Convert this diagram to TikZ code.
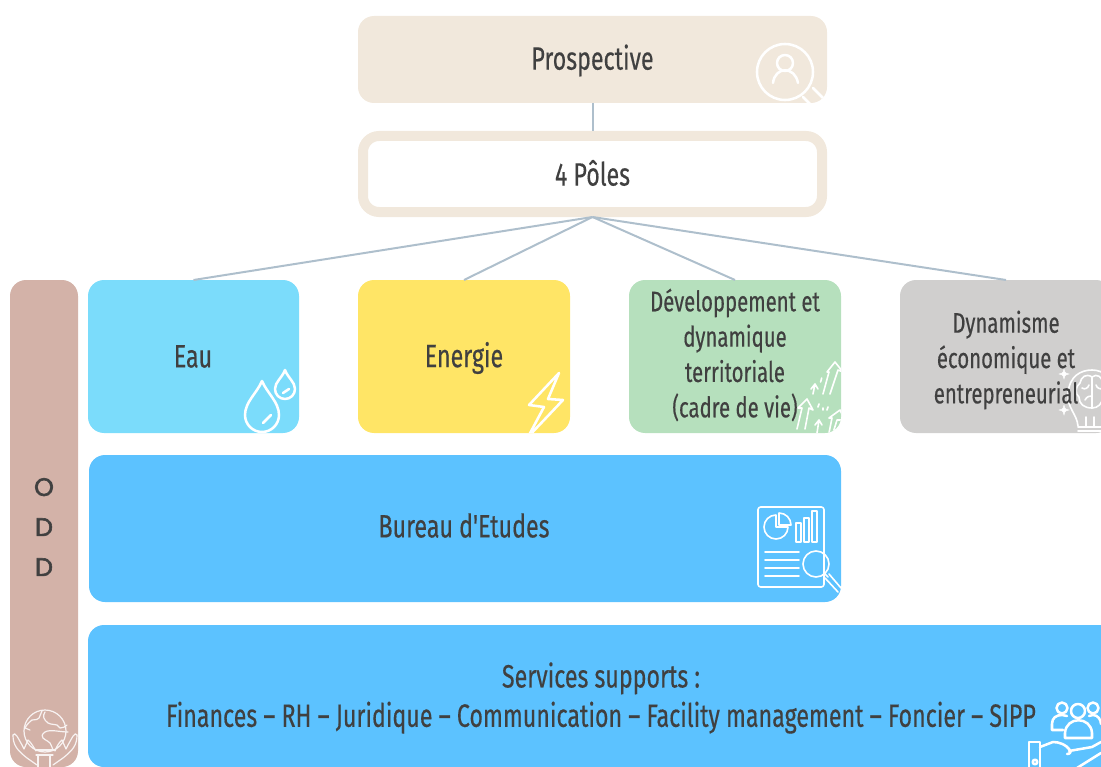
\documentclass[tikz,border=0pt]{standalone}
\usepackage{fontspec}
\setmainfont[FakeStretch=0.72,FakeBold=0.35]{Fira Sans}
\newfontfamily\plainfont[FakeStretch=0.72,FakeBold=0.35]{Fira Sans}
\newfontfamily\oddfont[FakeBold=2.2]{Poppins}
\definecolor{beige}{HTML}{F1E8DC}
\definecolor{linec}{HTML}{AEBFCC}
\definecolor{ink}{HTML}{404040}
\definecolor{rose}{HTML}{D3B2A8}
\definecolor{sky}{HTML}{7BDCFB}
\definecolor{sun}{HTML}{FFE566}
\definecolor{mint}{HTML}{B6E0BD}
\definecolor{greyb}{HTML}{D0CFCE}
\definecolor{azure}{HTML}{5CC2FF}
\tikzset{
  x=0.75pt,y=-0.75pt,
  boxn/.style={rectangle,rounded corners=12pt,inner sep=0,outer sep=0,draw=none},
  lbl/.style={text=ink,font=\fontsize{24.2}{26.5}\selectfont,align=center,inner sep=0},
  lbls/.style={text=ink,font=\fontsize{21.2}{26.5}\selectfont,align=center,inner sep=0},
  link/.style={draw=linec,line width=1.5pt},
  ico/.style={draw=white,line width=1.9pt,line cap=round,line join=round},
  icot/.style={draw=white,line width=1.2pt,line cap=round,line join=round},
  icof/.style={draw=white!85!rose,line width=0.9pt,line cap=round,line join=round},
}
\newcommand{\bx}[6]{\node[boxn,fill=#6,minimum width=(#4-#2)*0.75pt,minimum height=(#5-#3)*0.75pt] (#1) at ({(#2+#4)/2},{(#3+#5)/2}) {};}
\newcommand{\spark}[2]{\draw[fill=white,line width=0.3pt,draw=white] (#1-5,#2) .. controls (#1-1,#2-1) .. (#1,#2-5) .. controls (#1+1,#2-1) .. (#1+5,#2) .. controls (#1+1,#2+1) .. (#1,#2+5) .. controls (#1-1,#2+1) .. cycle;}
\begin{document}
\begin{tikzpicture}
\useasboundingbox (0,0) rectangle (1101,767);
\clip (0,0) rectangle (1101,767);
% boxes
\bx{pros}{358}{16}{827}{103}{beige}
\node[boxn,fill=white,draw=beige,line width=7.5pt,outer sep=3.75pt,minimum width=344.25pt,minimum height=57pt] (poles) at (592.5,174) {};
\bx{odd}{10}{280}{78}{767}{rose}
\bx{eau}{88}{280}{299}{433}{sky}
\bx{ene}{358}{280}{570}{433}{sun}
\bx{dev}{629}{280}{841}{433}{mint}
\bx{dyn}{900}{280}{1112}{433}{greyb}
\bx{be}{89}{455}{841}{602}{azure}
\bx{ser}{88}{625}{1130}{767}{azure}
% connectors
\draw[link] (pros.south) -- (poles.north);
\draw[link] (poles.south) -- (eau.north);
\draw[link] (poles.south) -- (ene.north);
\draw[link] (poles.south) -- (dev.north);
\draw[link] (poles.south) -- (dyn.north);
% magnifier person
\begin{scope}
\clip[rounded corners=12pt] (358,16) rectangle (827,103);
\begin{scope}[ico]
\draw (785,72) circle[radius=28];
\draw (785,63) circle[radius=8];
\draw (773,83) .. controls (775,66) and (795,66) .. (798,83);
\draw (803,97) -- (812,106) (813,88) -- (824,99);
\end{scope}
\end{scope}
% drops
\begin{scope}[ico]
\draw (262,381) .. controls (257,393) and (245,402) .. (245,415) arc[start angle=180,end angle=0,radius=17] .. controls (279,402) and (267,393) .. (262,381);
\draw (263,423) -- (271,415);
\draw (285,370) .. controls (282,378) and (275,382) .. (275,389) arc[start angle=180,end angle=0,radius=10] .. controls (295,382) and (288,378) .. (285,370);
\draw (283,393) -- (289,389);
\end{scope}
% bolt
\begin{scope}
\clip[rounded corners=12pt] (358,280) rectangle (570,433);
\draw[ico] (559,373) -- (529,405) -- (544,407) -- (528,437) -- (563,400) -- (548,399) -- cycle;
\end{scope}
% arrows
\begin{scope}
\clip[rounded corners=12pt] (629,280) rectangle (841,433);
\begin{scope}[icot]
\draw (823,394) -- (829,372) -- (827,372) -- (835,362) -- (843,372) -- (838,370) -- (830,394);
\draw (797,429) -- (802,408) -- (798,408) -- (807,399) -- (813,410) -- (809,408) -- (805,429);
\draw (829,433) -- (832,418) -- (829,418) -- (840,410) -- (845,420) -- (837,420) -- (833,433);
\draw (813,394) -- (815,384) (811,389) -- (815,384) -- (818,389);
\draw (817,433) -- (819,420) (815,425) -- (819,420) -- (822,425);
\draw (821.7,378) -- (820.6,382) (819,404) -- (818,407) (823,408) -- (823,410) (828,407) -- (827,410);
\end{scope}
\end{scope}
% brain lamp
\begin{scope}
\clip[rounded corners=12pt] (900,280) rectangle (1112,433);
\begin{scope}[icot]
\draw (1078,426) .. controls (1077,414) and (1067,408) .. (1068,394) .. controls (1069,376) and (1081,370) .. (1092,370) .. controls (1103,370) and (1115,378) .. (1115,394);
\draw (1078,427) -- (1101,427) (1078,431) -- (1101,431);
\draw (1086,417) -- (1086,426) (1094,417) -- (1094,426);
\draw (1092,377) .. controls (1086,373) and (1081,377) .. (1080,383) .. controls (1075,387) and (1075,394) .. (1079,397) .. controls (1079,404) and (1084,408) .. (1092,408) -- cycle;
\draw (1092,377) .. controls (1097,373) and (1102,377) .. (1103,383) (1103,397) .. controls (1102,404) and (1098,408) .. (1092,408);
\draw (1082,388) .. controls (1085,390) and (1088,388) .. (1089,385);
\draw (1085,400) .. controls (1087,396) and (1090,396) .. (1092,396);
\draw (1096,385) .. controls (1097,388) and (1100,390) .. (1103,388);
\end{scope}
\spark{1064}{374}
\spark{1064}{410}
\end{scope}
% report
\begin{scope}
\clip[rounded corners=12pt] (89,455) rectangle (841,602);
\begin{scope}[icot]
\draw[rounded corners=2pt] (758,507) rectangle (824,587);
\draw (776,515) arc[start angle=270,end angle=0,radius=12] -- (776,527) -- cycle;
\draw (779,513) arc[start angle=270,end angle=360,radius=12] -- (779,525) -- cycle;
\draw (796,523) rectangle (801,542);
\draw (804,518) rectangle (809,542);
\draw (812,511) rectangle (817,542);
\draw (765,552) -- (799,552) (765,560) -- (799,560) (765,568) -- (799,568) (765,576) -- (799,576);
\draw (816,564) circle[radius=13];
\draw (825,574) -- (828,577) (825,578) -- (838,592) (829,574) -- (841,588);
\end{scope}
\end{scope}
% globe
\begin{scope}[icof]
\draw (45,731) circle[radius=21];
\draw (42,711) -- (39,718) .. controls (36,721) and (33,719) .. (32,720) .. controls (28,723) and (26,726) .. (25,728) -- (30,730);
\draw (45,712) .. controls (42,716) and (44,720) .. (48,723) .. controls (52,725) and (55,724) .. (57,725) .. controls (59,726) and (59,728) .. (60,728) .. controls (63,728) and (65,727) .. (67,725);
\draw (68,732) .. controls (60,732) and (50,729) .. (45,732) .. controls (42,734) and (41,737) .. (43,738) .. controls (46,741) and (49,741) .. (50,743) .. controls (52,746) and (52,748) .. (53,750);
\draw (13,735) .. controls (13,745) and (17,750) .. (27,758) -- (37,765);
\draw (13,735) .. controls (15,731) and (18,738) .. (22,745) -- (24,749) -- (28,740) .. controls (31,742) and (34,748) .. (36,751);
\draw (77,735) .. controls (77,745) and (73,750) .. (63,758) -- (53,765);
\draw (77,735) .. controls (75,731) and (72,738) .. (68,745) -- (66,749) -- (62,740) .. controls (59,742) and (56,748) .. (55,751);
\draw (36,750) -- (55,750) (38,755) -- (38,767) (50,755) -- (50,767) (36,755) -- (53,755);
\end{scope}
% people hand
\begin{scope}[ico]
\draw (1062,708) circle[radius=5.5];
\draw (1078,711) circle[radius=7];
\draw (1093,708) circle[radius=5.5];
\draw (1063,730) -- (1052,730) -- (1052,724) .. controls (1052,718) and (1056,715) .. (1062,715) -- (1067,716);
\draw (1089,716) -- (1093,715) .. controls (1098,715) and (1101,720) .. (1101,724);
\draw (1065,738) -- (1065,733) .. controls (1066,716) and (1091,716) .. (1092,733) -- (1092,738) -- cycle;
\draw (1029,742) rectangle (1040,770);
\draw (1035,762) circle[radius=2.3];
\draw (1040,747) -- (1053,742) .. controls (1060,742) and (1066,745) .. (1069,749) .. controls (1072,752) and (1070,754) .. (1067,754);
\draw (1069,751) -- (1092,747) -- (1101,742);
\draw (1101,753) -- (1077,768);
\end{scope}
% labels
\node[lbl] (tpros) at (592.5,60.5) {Prospective};
\node[lbl] (tpoles) at (592.5,173) {4 Pôles};
\node[lbl] (teau) at (193,356.5) {Eau};
\node[lbl] (tene) at (464,358) {Energie};
\node[lbls] (tdev) at (735,355) {Développement et\\dynamique\\territoriale\\(cadre de vie)};
\node[lbls] (tdyn) at (1006,360) {Dynamisme\\économique et\\entrepreneurial};
\node[lbl] (tbe) at (464,525.5) {\plainfont Bureau d'Etudes};
\node[lbl] (tser) at (601,698) {Services supports :\\[3pt]Finances – RH – Juridique – Communication – Facility management – Foncier – SIPP};
\node[text=ink,font=\oddfont\fontsize{19}{30}\selectfont,align=center,inner sep=0] (todd) at (44,527) {O\\D\\D};
\end{tikzpicture}
\end{document}
